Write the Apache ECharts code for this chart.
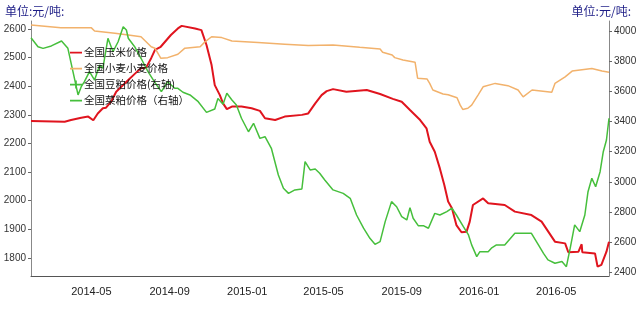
<!DOCTYPE html>
<html><head><meta charset="utf-8">
<script src="https://cdn.jsdelivr.net/npm/echarts@6/dist/echarts.min.js"></script>
<style>html,body{margin:0;padding:0;background:#fff}#c{width:640px;height:312px}</style>
</head><body><div id="c"></div>
<script>
const seriesNames = ['全国玉米价格', '全国小麦小麦价格', '全国豆粕价格(右轴)', '全国菜粕价格（右轴）'];
const unitLabel = '单位:元/吨:';
const xTickDates = ['2014-05-01','2014-09-01','2015-01-01','2015-05-01','2015-09-01','2016-01-01','2016-05-01'];
const leftTicks = [1800,1900,2000,2100,2200,2300,2400,2500,2600];
const rightTicks = [2400,2600,2800,3000,3200,3400,3600,3800,4000];

const cornDates = ['2014-01-26','2014-03-20','2014-03-22','2014-03-30','2014-04-15','2014-04-26','2014-05-04','2014-05-11','2014-05-19','2014-05-24','2014-06-01','2014-06-09','2014-06-17','2014-06-28','2014-07-09','2014-07-18','2014-07-26','2014-08-03','2014-08-09','2014-08-18','2014-09-03','2014-09-14','2014-09-20','2014-10-11','2014-10-21','2014-10-29','2014-11-06','2014-11-11','2014-11-19','2014-11-24','2014-11-30','2014-12-08','2014-12-23','2015-01-08','2015-01-21','2015-01-29','2015-02-14','2015-03-01','2015-03-28','2015-04-07','2015-04-18','2015-04-28','2015-05-06','2015-05-16','2015-06-06','2015-07-08','2015-07-29','2015-08-18','2015-09-01','2015-09-14','2015-09-30','2015-10-10','2015-10-15','2015-10-23','2015-10-31','2015-11-07','2015-11-13','2015-11-19','2015-11-26','2015-12-04','2015-12-12','2015-12-17','2015-12-22','2016-01-07','2016-01-15','2016-02-10','2016-02-26','2016-03-23','2016-04-08','2016-04-29','2016-05-15','2016-05-20','2016-06-05','2016-06-10','2016-06-11','2016-07-01','2016-07-05','2016-07-11','2016-07-19','2016-07-23'];
const cornValues = [2279,2276,2272,2282,2290,2294,2281,2305,2323,2325,2346,2381,2398,2422,2445,2463,2465,2498,2527,2538,2579,2602,2611,2602,2596,2544,2474,2404,2369,2340,2320,2329,2329,2323,2314,2288,2282,2294,2300,2305,2340,2369,2383,2390,2381,2387,2373,2356,2346,2317,2282,2253,2206,2171,2113,2055,1997,1974,1915,1890,1892,1927,1985,2008,1991,1985,1962,1950,1927,1857,1851,1820,1822,1848,1820,1816,1770,1776,1822,1857];

const wheatDates = ['2014-01-26','2014-03-14','2014-05-01','2014-05-06','2014-06-07','2014-06-28','2014-07-18','2014-08-03','2014-08-09','2014-08-18','2014-08-29','2014-09-14','2014-09-25','2014-10-19','2014-10-27','2014-11-06','2014-11-22','2014-12-08','2015-01-18','2015-03-01','2015-04-07','2015-05-16','2015-06-27','2015-07-29','2015-08-02','2015-08-17','2015-08-21','2015-09-03','2015-09-22','2015-09-26','2015-10-11','2015-10-15','2015-10-20','2015-11-05','2015-11-13','2015-11-27','2015-12-02','2015-12-06','2015-12-14','2015-12-20','2015-12-30','2016-01-07','2016-01-26','2016-02-15','2016-03-02','2016-03-10','2016-03-24','2016-04-24','2016-04-29','2016-05-15','2016-05-26','2016-06-26','2016-07-12','2016-07-23'];
const wheatValues = [2614,2604,2604,2593,2585,2579,2573,2538,2533,2498,2500,2512,2533,2538,2556,2573,2570,2558,2553,2547,2542,2544,2536,2530,2519,2509,2500,2492,2484,2428,2425,2410,2387,2373,2370,2360,2334,2319,2323,2334,2369,2398,2410,2402,2387,2363,2387,2379,2410,2433,2453,2462,2453,2449];

const soyDates = ['2014-01-26','2014-02-06','2014-02-14','2014-02-27','2014-03-15','2014-03-25','2014-04-02','2014-04-10','2014-04-15','2014-04-20','2014-04-28','2014-05-06','2014-05-14','2014-05-19','2014-05-27','2014-06-04','2014-06-12','2014-06-20','2014-06-25','2014-06-28','2014-07-08','2014-07-18','2014-07-29','2014-08-08','2014-08-19','2014-08-29','2014-09-09','2014-09-14','2014-09-22','2014-10-03','2014-10-16','2014-10-29','2014-11-11','2014-11-16','2014-11-24','2014-11-30','2014-12-08','2014-12-15','2014-12-23','2015-01-03','2015-01-11','2015-01-21','2015-01-29','2015-02-08','2015-02-19','2015-02-27','2015-03-07','2015-03-17','2015-03-28','2015-04-02','2015-04-10','2015-04-18','2015-04-25','2015-05-03','2015-05-16','2015-06-01','2015-06-12','2015-06-22','2015-07-03','2015-07-13','2015-07-21','2015-07-29','2015-08-06','2015-08-16','2015-08-24','2015-09-01','2015-09-09','2015-09-14','2015-09-19','2015-09-27','2015-10-05','2015-10-13','2015-10-23','2015-10-31','2015-11-11','2015-11-19','2015-11-26','2015-12-07','2015-12-15','2015-12-20','2015-12-28','2016-01-02','2016-01-15','2016-01-20','2016-01-28','2016-02-10','2016-02-26','2016-03-23','2016-04-03','2016-04-11','2016-04-18','2016-04-29','2016-05-10','2016-05-17','2016-05-23','2016-05-30','2016-06-07','2016-06-15','2016-06-20','2016-06-26','2016-07-02','2016-07-09','2016-07-14','2016-07-19','2016-07-22','2016-07-23'];
const soyValues = [3959,3899,3888,3904,3937,3888,3733,3578,3633,3666,3733,3677,3777,3755,3955,3866,3932,4032,4010,3955,3899,3822,3733,3666,3600,3666,3622,3622,3596,3578,3533,3462,3484,3555,3516,3589,3544,3511,3423,3333,3389,3289,3300,3223,3045,2957,2923,2946,2952,3134,3079,3085,3057,3012,2946,2923,2890,2779,2691,2624,2584,2602,2735,2868,2834,2768,2746,2828,2757,2708,2708,2691,2790,2779,2801,2824,2779,2701,2646,2580,2502,2535,2535,2558,2580,2580,2657,2657,2580,2524,2480,2458,2469,2435,2558,2713,2668,2779,2934,3023,2967,3067,3200,3278,3289,3423];

const rapeDates = [];
const rapeValues = [];

const xMin = '2014-01-26', xMax = '2016-07-23';

const ts = d => Date.parse(d);
const pair = (ds, vs) => ds.map((d, i) => [ts(d), vs[i]]);
const fontFam = 'Liberation Sans, Arial, Noto Sans CJK SC, sans-serif';
const lineIcon = 'path://M0,0h0.01v0.01h-0.01z M0,4.3h12v1.6h-12z M11.99,9.99h0.01v0.01h-0.01z';
const crossIcon = 'path://M0,0h0.01v0.01h-0.01z M0,4.3h12v1.6h-12z M5.2,1h1.6v8h-1.6z M11.99,9.99h0.01v0.01h-0.01z';

const chart = echarts.init(document.getElementById('c'), null, {renderer: 'canvas'});
chart.setOption({
  animation: false,
  backgroundColor: '#ffffff',
  title: [
    {text: unitLabel, left: 0, top: 0, textStyle: {fontSize: 12, fontWeight: 'normal', color: '#1c1c86', fontFamily: 'Noto Sans CJK SC'}},
    {text: unitLabel, right: 4, top: 0, textStyle: {fontSize: 12, fontWeight: 'normal', color: '#1c1c86', fontFamily: 'Noto Sans CJK SC'}}
  ],
  legend: {
    orient: 'vertical', left: 65, top: 42, itemWidth: 12, itemHeight: 10, itemGap: 5,
    textStyle: {fontSize: 10.5, lineHeight: 11, color: '#111', fontFamily: 'Noto Sans CJK SC', padding: [0,0,0,-3]},
    data: [
      {name: seriesNames[0], icon: lineIcon},
      {name: seriesNames[1], icon: lineIcon},
      {name: seriesNames[2], icon: crossIcon},
      {name: seriesNames[3], icon: lineIcon}
    ]
  },
  grid: {left: 31, right: 31, top: 21, bottom: 36},
  xAxis: {
    type: 'value', min: ts(xMin), max: ts(xMax),
    splitLine: {show: false},
    axisLine: {lineStyle: {color: '#555', width: 1}},
    axisTick: {show: false},
    axisLabel: {
      customValues: xTickDates.map(ts), margin: 10, color: '#222', fontSize: 11, fontFamily: fontFam,
      formatter: v => { const d = new Date(v); return d.getUTCFullYear() + '-' + String(d.getUTCMonth() + 1).padStart(2, '0'); }
    }
  },
  yAxis: [
    {
      type: 'value', min: 1737, max: 2628, position: 'left',
      splitLine: {show: false},
      axisLine: {show: true, lineStyle: {color: '#888'}},
      axisTick: {show: true, length: 3, customValues: leftTicks, lineStyle: {color: '#666'}},
      axisLabel: {customValues: leftTicks, formatter: v => String(v), color: '#333', fontSize: 10, margin: 5, fontFamily: fontFam}
    },
    {
      type: 'value', min: 2373, max: 4070, position: 'right',
      splitLine: {show: false},
      axisLine: {show: true, lineStyle: {color: '#888'}},
      axisTick: {show: true, length: 3, customValues: rightTicks, lineStyle: {color: '#666'}},
      axisLabel: {customValues: rightTicks, formatter: v => String(v), color: '#333', fontSize: 10, margin: 5, fontFamily: fontFam}
    }
  ],
  series: [
    {name: seriesNames[0], type: 'line', yAxisIndex: 0, data: pair(cornDates, cornValues), symbol: 'none', lineStyle: {color: '#e0141e', width: 2}, itemStyle: {color: '#e0141e'}},
    {name: seriesNames[1], type: 'line', yAxisIndex: 0, data: pair(wheatDates, wheatValues), symbol: 'none', lineStyle: {color: '#f2b26c', width: 1.5}, itemStyle: {color: '#f2b26c'}},
    {name: seriesNames[2], type: 'line', yAxisIndex: 1, data: pair(soyDates, soyValues), symbol: 'none', lineStyle: {color: '#46bf3c', width: 1.5}, itemStyle: {color: '#46bf3c'}},
    {name: seriesNames[3], type: 'line', yAxisIndex: 1, data: pair(rapeDates, rapeValues), symbol: 'none', lineStyle: {color: '#46bf3c', width: 1.5}, itemStyle: {color: '#46bf3c'}}
  ]
});
</script>
</body></html>
